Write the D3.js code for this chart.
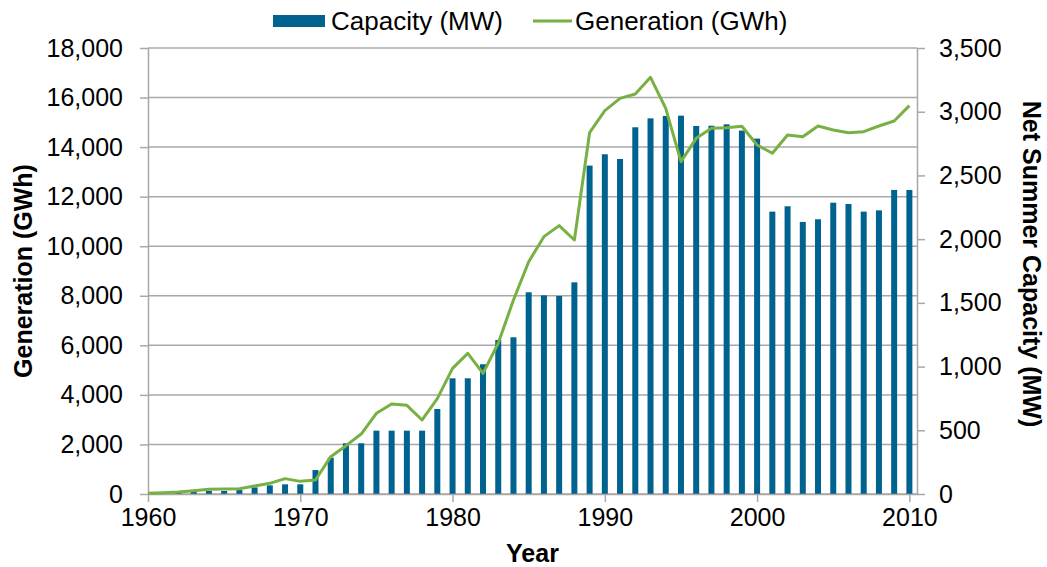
<!DOCTYPE html>
<html>
<head>
<meta charset="utf-8">
<script src="https://cdn.jsdelivr.net/npm/d3@7"></script>
<style>
  body { margin: 0; background: #fff; }
  text { font-family: "Liberation Sans", Arial, sans-serif; fill: #000; }
  .tick-label { font-size: 25px; }
  .title { font-size: 25px; font-weight: bold; }
  .legend-label { font-size: 26px; }
</style>
</head>
<body>
<svg id="chart" width="1047" height="567"></svg>
<script>
const years = d3.range(1960, 2011);

// Net summer capacity (MW), right axis
const capacity = [
  0, 5, 8, 18, 24, 24, 31, 52, 68, 76,
  76, 188, 285, 398, 398, 497, 497, 497, 497, 667,
  908, 908, 1018, 1209, 1230, 1583, 1559, 1554, 1661, 2577,
  2666, 2629, 2878, 2948, 2967, 2969, 2888, 2890, 2901, 2852,
  2789, 2216, 2258, 2135, 2156, 2286, 2276, 2216, 2226, 2386,
  2386,
];

// Generation (GWh), left axis
const generation = [
  30, 55, 80, 135, 190, 200, 215, 323, 430, 620,
  510, 565, 1507, 1950, 2420, 3256, 3632, 3578, 2987, 3850,
  5072, 5678, 4870, 6082, 7830, 9376, 10386, 10830, 10252, 14583,
  15471, 15969, 16144, 16817, 15566, 13412, 14355, 14759, 14786, 14840,
  14086, 13750, 14489, 14422, 14853, 14692, 14583, 14624, 14853, 15055,
  15673,
];

const leftTicks = d3.range(0, 18001, 2000);
const rightTicks = d3.range(0, 3501, 500);
const yearTicks = [1960, 1970, 1980, 1990, 2000, 2010];

const barColor = "#00638f";
const lineColor = "#78b043";
const gridColor = "#a8a8a8";

const svg = d3.select("#chart");
const plot = { left: 148, right: 917, top: 48, bottom: 494 };

const x = d3.scaleLinear().domain([1960, 2010.5]).range([plot.left, plot.right]);
const yLeft = d3.scaleLinear().domain([0, 18000]).range([plot.bottom, plot.top]);
const yRight = d3.scaleLinear().domain([0, 3500]).range([plot.bottom, plot.top]);
const barW = 6;

const fmt = d3.format(",");

// gridlines
svg.append("g")
  .selectAll("line")
  .data(leftTicks)
  .join("line")
  .attr("x1", plot.left)
  .attr("x2", plot.right)
  .attr("y1", (d) => yLeft(d))
  .attr("y2", (d) => yLeft(d))
  .attr("stroke", gridColor)
  .attr("stroke-width", 1.5);

// bars
svg.append("g")
  .selectAll("rect")
  .data(years.map((yr, i) => ({ yr, v: capacity[i] })))
  .join("rect")
  .attr("x", (d) => x(d.yr) - barW / 2)
  .attr("width", barW)
  .attr("y", (d) => yRight(d.v))
  .attr("height", (d) => yRight(0) - yRight(d.v))
  .attr("fill", barColor);

// axes
const styleAxis = (sel) => {
  sel.select(".domain").attr("stroke", gridColor).attr("stroke-width", 1.5);
  sel.selectAll(".tick line").attr("stroke", gridColor).attr("stroke-width", 1.5);
  sel.selectAll(".tick text").attr("class", "tick-label").attr("fill", "#000");
};

svg.append("g")
  .attr("transform", `translate(${plot.left},0)`)
  .call(d3.axisLeft(yLeft).tickValues(leftTicks).tickFormat(fmt).tickSize(8).tickSizeOuter(0).tickPadding(17))
  .call(styleAxis)
  .attr("font-family", null).attr("font-size", null);

svg.append("g")
  .attr("transform", `translate(${plot.right},0)`)
  .call(d3.axisRight(yRight).tickValues(rightTicks).tickFormat(fmt).tickSize(8).tickSizeOuter(0).tickPadding(14))
  .call(styleAxis)
  .attr("font-family", null).attr("font-size", null);

svg.append("g")
  .attr("transform", `translate(0,${plot.bottom})`)
  .call(d3.axisBottom(x).tickValues(yearTicks).tickFormat(d3.format("d")).tickSize(8).tickSizeOuter(0).tickPadding(6))
  .call(styleAxis)
  .attr("font-family", null).attr("font-size", null);

// generation line
const line = d3.line()
  .x((d, i) => x(years[i]))
  .y((d) => yLeft(d));

svg.append("path")
  .datum(generation)
  .attr("d", line)
  .attr("fill", "none")
  .attr("stroke", lineColor)
  .attr("stroke-width", 3)
  .attr("stroke-linejoin", "round");

// axis titles
svg.append("text")
  .attr("class", "title")
  .attr("text-anchor", "middle")
  .attr("transform", "translate(32,271) rotate(-90)")
  .text("Generation (GWh)");

svg.append("text")
  .attr("class", "title")
  .attr("text-anchor", "middle")
  .attr("transform", "translate(1023,264) rotate(90)")
  .text("Net Summer Capacity (MW)");

svg.append("text")
  .attr("class", "title")
  .attr("text-anchor", "middle")
  .attr("x", (plot.left + plot.right) / 2)
  .attr("y", 562)
  .text("Year");

// legend
const legend = svg.append("g");
legend.append("rect")
  .attr("x", 273).attr("y", 15).attr("width", 52).attr("height", 12)
  .attr("fill", barColor);
legend.append("text")
  .attr("class", "legend-label")
  .attr("x", 331).attr("y", 30)
  .text("Capacity (MW)");
legend.append("line")
  .attr("x1", 533).attr("x2", 572).attr("y1", 21).attr("y2", 21)
  .attr("stroke", lineColor).attr("stroke-width", 3);
legend.append("text")
  .attr("class", "legend-label")
  .attr("x", 575).attr("y", 30)
  .text("Generation (GWh)");
</script>
</body>
</html>
